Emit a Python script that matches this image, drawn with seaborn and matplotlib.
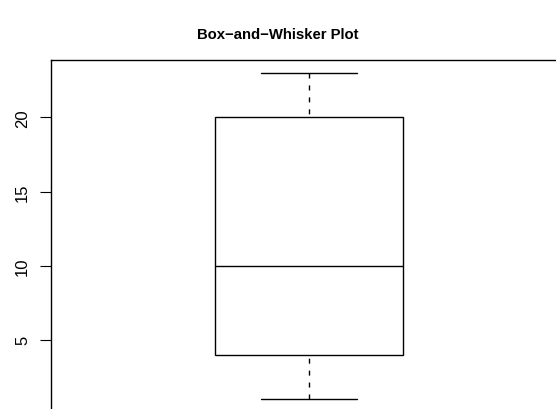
import matplotlib
matplotlib.use('Agg')
import matplotlib.pyplot as plt
import seaborn as sns
import pandas as pd

# Values behind the box: min, Q1, median, Q3, max
values = [1, 4, 10, 20, 23]
ticks = [5, 10, 15, 20]
title = 'Box\u2212and\u2212Whisker Plot'

sns.set_style('white')
plt.rcParams['font.family'] = ['Liberation Sans', 'DejaVu Sans']
plt.rcParams['text.color'] = 'black'
plt.rcParams['ytick.color'] = 'black'

df = pd.DataFrame({'value': values})

fig = plt.figure(figsize=(5.56, 4.10), dpi=100)
# plot region runs past the right and bottom edge, as in the reference
ax = fig.add_axes([51 / 556, -3 / 410, 1 - 51 / 556, 352 / 410])

sns.boxplot(data=df, y='value', ax=ax, width=0.8, color='white',
            linecolor='black', linewidth=1, whis=1.5,
            whiskerprops=dict(linestyle=(0, (3.6, 5.0))),
            capprops=dict(linewidth=1),
            medianprops=dict(color='black', linewidth=1),
            capwidths=0.41)

# R draws the whisker dashes starting from the staple end
for line in ax.lines:
    if line.get_linestyle() not in ('-', 'None'):
        x, y = line.get_data()
        line.set_data(x[::-1], y[::-1])

ax.set_xlim(-1.098, 1.051)
ax.set_ylim(0.12, 23.88)
ax.set_yticks(ticks)
ax.set_yticklabels([str(t) for t in ticks], rotation=90, va='center', fontsize=12)
ax.set_xticks([])
ax.set_xlabel('')
ax.set_ylabel('')
ax.tick_params(axis='y', left=True, length=8, width=0.8, color='black', pad=7)

for side in ['left', 'top']:
    ax.spines[side].set_color('black')
    ax.spines[side].set_linewidth(1)
ax.spines['right'].set_visible(False)
ax.spines['bottom'].set_visible(False)

fig.text(278 / 556, 1 - 35 / 410, title, ha='center', va='center',
         fontsize=10.7, fontweight='bold', color='black')

fig.savefig('out.png', dpi=100)
